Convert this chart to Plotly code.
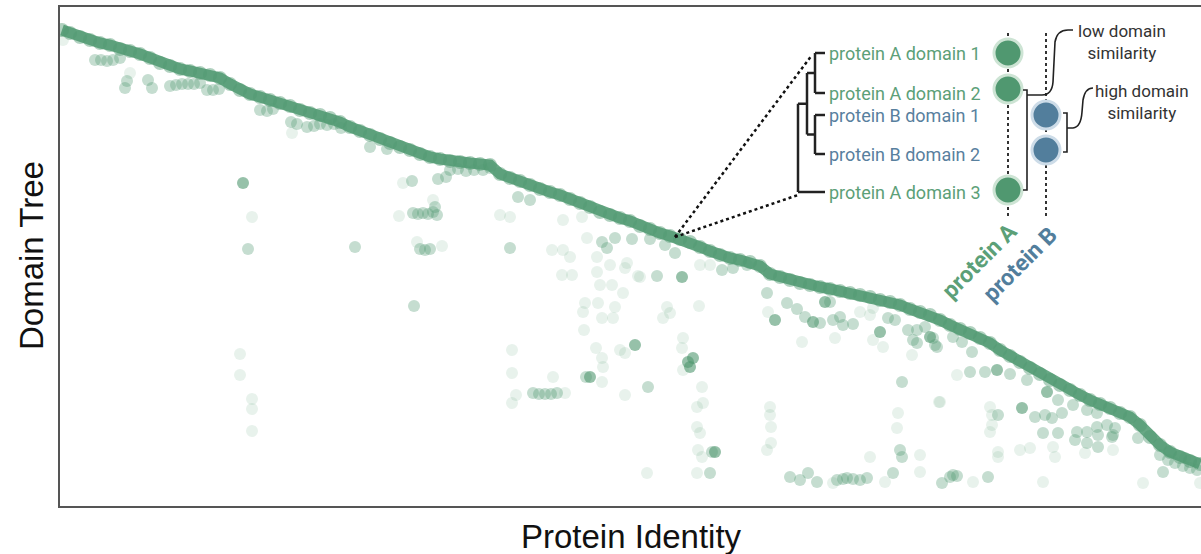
import plotly.graph_objects as go

# ---------------- data ----------------
# main diagonal band: protein identity rank vs domain tree rank
band_x = [62,70,80,90,100,110,120,130,140,150,160,170,180,190,200,210,220,230,240,250,
          260,270,280,290,300,310,320,330,340,350,360,370,380,390,400,410,420,430,440,450,
          460,470,480,490,500,510,520,530,540,550,560,570,580,590,600,610,620,630,640,650,
          660,670,680,690,700,710,720,730,740,750,760,770,780,790,800,810,820,830,840,850,
          860,870,880,890,900,910,920,930,940,950,960,970,980,990,1000,1010,1020,1030,1040,1050,
          1060,1070,1080,1090,1100,1110,1120,1130,1140,1150,1160,1170,1180,1190,1200]
band_y = [30,33,37,40,43,45,49,51,54,58,63,66,69,71,73,75,78,84,90,94,
          97,100,103,106,110,113,115,118,122,127,131,135,139,143,147,150,154,157,159,161,
          162,163,164,165,174,178,181,185,189,192,195,199,203,207,212,215,218,221,226,229,
          233,236,239,242,247,251,255,258,260,262,266,274,277,280,283,285,287,289,291,293,
          295,297,300,302,305,309,312,315,320,325,329,333,338,343,350,356,362,368,374,380,
          385,390,395,400,404,408,413,417,425,437,445,452,457,461,464]

# darker off-diagonal hits
dark_x = [243,682,635,688,690,693,590,715,775,813,825,880,930,997,1047,1022]
dark_y = [183,277,345,362,367,358,377,452,320,322,302,332,337,370,392,408]

# medium off-diagonal hits
mid_x = [95,101,107,113,120,127,125,148,152,170,176,182,188,194,200,207,213,219,
         260,267,273,291,297,307,314,320,327,334,341,370,387,248,355,412,438,446,
         450,458,466,474,483,490,413,418,423,428,433,437,435,420,425,430,414,518,530,510,
         602,607,615,632,650,665,675,657,722,733,747,586,648,533,539,545,551,557,712,710,
         767,787,797,805,820,830,833,840,843,853,888,895,908,917,925,913,917,935,902,900,902,
         790,800,808,817,837,843,847,853,860,867,893,942,950,953,957,988,1163,
         933,937,953,962,972,970,985,1010,1027,1058,1062,1073,1087,1097,998,1035,1045,1052,
         1043,1058,1075,1077,1087,1097,1107,1115,1113,1098,1087,1098,1112,1138,
         1160,1168,1175,1183,1190,1197,1170,1185]
mid_y = [60,60,61,60,58,81,88,80,88,86,85,84,84,84,83,90,90,89,
         110,111,109,122,124,127,126,124,125,124,128,147,149,249,247,181,179,177,
         170,169,171,170,170,168,213,214,213,214,212,215,207,249,250,249,306,197,200,248,
         242,248,238,239,239,245,253,276,270,268,265,377,387,393,394,394,394,393,452,473,
         293,303,309,317,323,302,320,317,325,324,318,320,330,330,327,340,343,345,382,450,457,
         477,480,473,482,480,479,478,479,480,478,473,483,477,475,476,477,472,
         338,347,337,342,352,372,372,374,380,400,413,405,410,413,415,417,415,418,
         433,433,440,432,432,427,425,428,435,435,443,447,437,438,
         455,460,463,466,468,470,452,458]

# faint off-diagonal hits
faint_x = [63,130,292,252,240,240,252,252,252,399,403,433,417,442,500,510,552,563,570,563,582,587,
           597,627,625,610,597,562,572,600,612,623,638,640,700,710,598,615,583,585,602,613,
           667,670,663,699,584,596,620,625,602,603,683,682,683,602,553,512,512,516,512,702,565,625,
           697,703,697,700,698,702,697,647,770,770,771,771,767,768,860,870,873,802,835,873,883,912,
           898,897,920,870,940,833,885,920,973,1043,957,939,990,992,992,990,1053,1055,1020,1030,
           998,998,1085,1113,1143,1200]
faint_y = [40,73,133,217,354,375,399,409,431,216,183,200,242,246,215,217,250,250,257,220,217,238,
           257,263,268,265,272,275,275,285,285,293,276,277,265,265,303,307,312,303,318,318,
           307,313,318,306,330,348,350,353,358,367,338,348,370,382,377,350,373,395,403,387,393,395,
           407,403,427,433,450,457,473,473,407,415,427,443,450,312,312,315,308,342,338,340,347,355,
           413,428,455,457,402,483,482,472,482,482,375,402,407,415,425,432,447,457,450,448,
           452,457,453,450,483,483]

# inset dendrogram labels
leaf_labels = ["protein A domain 1", "protein A domain 2", "protein B domain 1",
               "protein B domain 2", "protein A domain 3"]
leaf_rows = [53, 93, 115, 154, 192]
leaf_protein = ["A", "A", "B", "B", "A"]

GREEN = "rgb(80,152,112)"
GREEN_TXT = "rgb(92,160,120)"
BLUE = "rgb(82,126,156)"
BLUE_TXT = "rgb(88,128,158)"

fig = go.Figure()

fig.add_trace(go.Scatter(x=faint_x, y=faint_y, mode="markers",
                         marker=dict(size=12, color=GREEN, opacity=0.13, line=dict(width=0)),
                         hoverinfo="skip"))
fig.add_trace(go.Scatter(x=mid_x, y=mid_y, mode="markers",
                         marker=dict(size=12, color=GREEN, opacity=0.33, line=dict(width=0)),
                         hoverinfo="skip"))
fig.add_trace(go.Scatter(x=dark_x, y=dark_y, mode="markers",
                         marker=dict(size=12, color=GREEN, opacity=0.6, line=dict(width=0)),
                         hoverinfo="skip"))
fig.add_trace(go.Scatter(x=band_x, y=band_y, mode="lines+markers",
                         line=dict(color="rgba(88,158,120,0.9)", width=11),
                         marker=dict(size=14, color=GREEN, opacity=0.45, line=dict(width=0)),
                         hoverinfo="skip"))

shapes = []
ann = []

def seg(x0, y0, x1, y1, color="#222", width=2.5, dash="solid"):
    shapes.append(dict(type="line", xref="x", yref="y", x0=x0, y0=y0, x1=x1, y1=y1,
                       line=dict(color=color, width=width, dash=dash)))

def path(d, color="#222", width=1.6):
    shapes.append(dict(type="path", xref="x", yref="y", path=d,
                       line=dict(color=color, width=width)))

# zoom dotted lines
seg(675, 237, 812, 55, color="#111", width=2.5, dash="dot")
seg(675, 237, 798, 195, color="#111", width=2.5, dash="dot")

# dendrogram
r = leaf_rows
seg(815, r[0], 825, r[0]); seg(815, r[1], 825, r[1]); seg(815, r[0], 815, r[1])
seg(815, r[2], 825, r[2]); seg(815, r[3], 825, r[3]); seg(815, r[2], 815, r[3])
ya = (r[0] + r[1]) / 2; yb = (r[2] + r[3]) / 2
seg(807, ya, 815, ya); seg(807, yb, 815, yb); seg(807, ya, 807, yb)
yab = (ya + yb) / 2
seg(798, yab, 807, yab); seg(798, r[4], 825, r[4]); seg(798, yab, 798, r[4])

# column dotted lines
seg(1008, 33, 1008, 217, color="#333", width=2, dash="dot")
seg(1046, 33, 1046, 217, color="#333", width=2, dash="dot")

# domain circles
circ_a = [53, 89, 190]
circ_b = [115, 150]
for cy in circ_a:
    shapes.append(dict(type="circle", xref="x", yref="y", x0=1008 - 14, x1=1008 + 14,
                       y0=cy - 14, y1=cy + 14, fillcolor=GREEN,
                       line=dict(color="rgb(205,228,212)", width=3)))
for cy in circ_b:
    shapes.append(dict(type="circle", xref="x", yref="y", x0=1046 - 14, x1=1046 + 14,
                       y0=cy - 14, y1=cy + 14, fillcolor=BLUE,
                       line=dict(color="rgb(205,220,232)", width=3)))

# brackets
path("M 1023,90 L 1027,90 L 1027,190 L 1023,190")
path("M 1027,95 L 1042,95 Q 1052,95 1053,82 L 1055,42 Q 1057,30 1068,30 L 1073,30")
path("M 1063,113 L 1067,113 L 1067,152 L 1063,152")
path("M 1067,128 L 1073,128 Q 1081,127 1082,112 L 1083,100 Q 1085,88 1093,88")

for lab, row, p in zip(leaf_labels, leaf_rows, leaf_protein):
    ann.append(dict(x=827, y=row, xref="x", yref="y", text=lab, showarrow=False,
                    xanchor="left", yanchor="middle",
                    font=dict(family="Roboto", size=18,
                              color=GREEN_TXT if p == "A" else BLUE_TXT)))

ann.append(dict(x=1122, y=42, xref="x", yref="y", text="low domain<br>similarity",
                showarrow=False, xanchor="center", yanchor="middle",
                font=dict(family="Roboto", size=17, color="#333")))
ann.append(dict(x=1142, y=102, xref="x", yref="y", text="high domain<br>similarity",
                showarrow=False, xanchor="center", yanchor="middle",
                font=dict(family="Roboto", size=17, color="#333")))
ann.append(dict(x=979, y=261, xref="x", yref="y", text="<b>protein A</b>", textangle=-45,
                showarrow=False, font=dict(family="Roboto", size=23, color=GREEN_TXT)))
ann.append(dict(x=1020, y=264, xref="x", yref="y", text="<b>protein B</b>", textangle=-45,
                showarrow=False, font=dict(family="Roboto", size=23, color=BLUE)))

# axis titles (placed in paper units relative to the plot area)
PLOT_W, PLOT_H = 1141, 499
ann.append(dict(x=631, y=(506 - 536) / PLOT_H, xref="x", yref="paper",
                yanchor="middle", xanchor="center", text="Protein Identity",
                showarrow=False, font=dict(family="Liberation Sans", size=33, color="#111")))
ann.append(dict(x=(31 - 60) / PLOT_W, y=256, xref="paper", yref="y",
                xanchor="center", yanchor="middle", text="Domain Tree", textangle=-90,
                showarrow=False, font=dict(family="Liberation Sans", size=33, color="#111")))

fig.update_layout(
    width=1201, height=554,
    margin=dict(l=60, r=0, t=7, b=48, autoexpand=False),
    paper_bgcolor="white", plot_bgcolor="white",
    showlegend=False, hovermode=False,
    shapes=shapes, annotations=ann,
    xaxis=dict(range=[60, 1201], showticklabels=False, showgrid=False, zeroline=False,
               ticks="", showline=True, mirror=True, linecolor="#555", linewidth=2),
    yaxis=dict(range=[506, 7], showticklabels=False, showgrid=False, zeroline=False,
               ticks="", showline=True, mirror=True, linecolor="#555", linewidth=2),
)

fig.write_html("out.html", config={"displayModeBar": False},
               post_script="document.body.style.margin='0';document.body.style.overflow='hidden';")
